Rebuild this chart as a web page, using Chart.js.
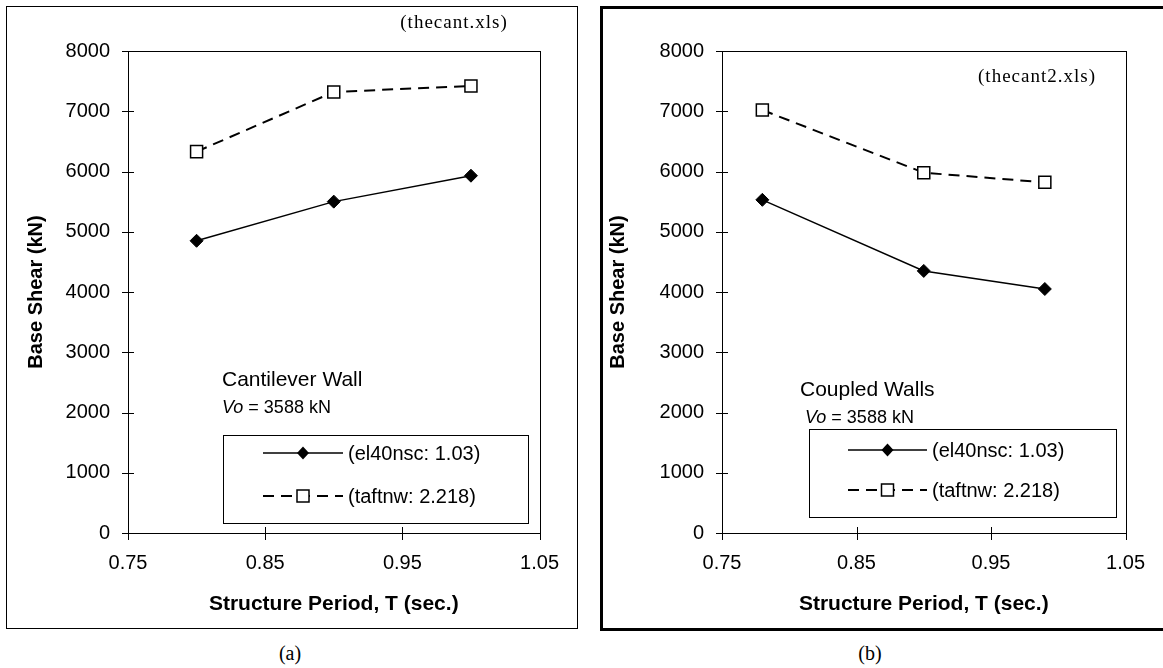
<!DOCTYPE html>
<html>
<head>
<meta charset="utf-8">
<script src="https://cdn.jsdelivr.net/npm/chart.js@4.4.0/dist/chart.umd.min.js"></script>
<style>
body { margin: 0; background: #fff; width: 1163px; height: 668px; overflow: hidden; position: relative; }
.panel { position: absolute; box-sizing: border-box; border: 1px solid #000; overflow: hidden; }
#pa { left: 6px; top: 6px; width: 572px; height: 623px; }
#pb { left: 600px; top: 6px; width: 566px; height: 625px; border-width: 3px; }
.panel canvas { display: block; }
.cap { position: absolute; top: 642px; font: 20px "Liberation Serif", "Times New Roman", serif; transform: translateX(-50%); }
</style>
</head>
<body>
<div class="panel" id="pa"><canvas id="chartA" width="570" height="621"></canvas></div>
<div class="panel" id="pb"><canvas id="chartB" width="560" height="619"></canvas></div>
<div class="cap" style="left:290px">(a)</div>
<div class="cap" style="left:870px">(b)</div>
<script>
// data
const xTickValues = [0.75, 0.85, 0.95, 1.05];
const yTickValues = [0, 1000, 2000, 3000, 4000, 5000, 6000, 7000, 8000];
const seriesNames = ['(el40nsc: 1.03)', '(taftnw: 2.218)'];

// (a) cantilever wall
const periodsA = [0.8, 0.9, 1.0];
const el40A = [4850, 5500, 5930];
const taftA = [6330, 7320, 7420];

// (b) coupled walls
const periodsB = [0.78, 0.9, 0.99];
const el40B = [5530, 4350, 4050];
const taftB = [7020, 5980, 5820];

const SANS = '"Liberation Sans", Arial, sans-serif';
const SERIF = '"Liberation Serif", "Times New Roman", serif';
Chart.defaults.color = '#000';
Chart.defaults.font.family = SANS;

function pairs(xs, ys) {
    return xs.map((x, i) => ({ x: x, y: ys[i] }));
}

function drawMarker(ctx, style, x, y) {
    ctx.save();
    ctx.setLineDash([]);
    ctx.strokeStyle = '#000';
    ctx.lineWidth = 1.5;
    if (style === 'rectRot') {
        ctx.fillStyle = '#000';
        ctx.beginPath();
        ctx.moveTo(x, y - 6.5);
        ctx.lineTo(x + 6, y);
        ctx.lineTo(x, y + 6.5);
        ctx.lineTo(x - 6, y);
        ctx.closePath();
        ctx.fill();
    } else {
        ctx.fillStyle = '#fff';
        ctx.fillRect(x - 6, y - 6, 12, 12);
        ctx.strokeRect(x - 6, y - 6, 12, 12);
    }
    ctx.restore();
}

// plot box, crossing tick marks, legend box and notes
const decorPlugin = {
    id: 'decor',
    afterDraw(chart) {
        const ctx = chart.ctx;
        const a = chart.chartArea;
        const cfg = chart.options.plugins.decor;
        ctx.save();
        ctx.strokeStyle = '#000';
        ctx.lineWidth = 1;
        ctx.strokeRect(Math.round(a.left) + 0.5, Math.round(a.top) + 0.5,
            Math.round(a.right - a.left), Math.round(a.bottom - a.top));

        const xs = chart.scales.x, ys = chart.scales.y;
        ctx.beginPath();
        xTickValues.forEach(v => {
            const px = Math.round(xs.getPixelForValue(v)) + 0.5;
            ctx.moveTo(px, a.bottom - 6);
            ctx.lineTo(px, a.bottom + 7);
        });
        yTickValues.forEach(v => {
            const py = Math.round(ys.getPixelForValue(v)) + 0.5;
            ctx.moveTo(a.left - 6, py);
            ctx.lineTo(a.left + 6, py);
        });
        ctx.stroke();

        // legend
        const lg = cfg.legend;
        ctx.fillStyle = '#fff';
        ctx.fillRect(lg.x, lg.y, lg.w, lg.h);
        ctx.strokeRect(lg.x + 0.5, lg.y + 0.5, lg.w, lg.h);
        chart.data.datasets.forEach((ds, i) => {
            const ry = lg.rows[i];
            ctx.save();
            ctx.lineWidth = ds.borderWidth;
            ctx.setLineDash(ds.borderDash || []);
            ctx.beginPath();
            ctx.moveTo(lg.lineX0, ry);
            ctx.lineTo(lg.lineX1, ry);
            ctx.stroke();
            ctx.restore();
            drawMarker(ctx, ds.pointStyle, (lg.lineX0 + lg.lineX1) / 2, ry);
            ctx.fillStyle = '#000';
            ctx.font = '20px ' + SANS;
            ctx.textBaseline = 'middle';
            ctx.textAlign = 'left';
            ctx.fillText(ds.label, lg.textX, ry + 1);
        });

        // notes
        ctx.fillStyle = '#000';
        ctx.textBaseline = 'middle';
        ctx.textAlign = 'left';
        ctx.font = '21px ' + SANS;
        ctx.fillText(cfg.name.text, cfg.name.x, cfg.name.y);
        ctx.font = 'italic 18px ' + SANS;
        ctx.fillText('Vo', cfg.vo.x, cfg.vo.y);
        const w = ctx.measureText('Vo').width;
        ctx.font = '18px ' + SANS;
        ctx.fillText(' = 3588 kN', cfg.vo.x + w, cfg.vo.y);

        ctx.font = '19px ' + SERIF;
        ctx.textAlign = 'center';
        if (ctx.letterSpacing !== undefined) ctx.letterSpacing = '1px';
        ctx.fillText(cfg.file.text, cfg.file.x, cfg.file.y);
        ctx.restore();
    }
};

function makeChart(id, periods, el40, taft, lay) {
    return new Chart(document.getElementById(id), {
        type: 'scatter',
        data: {
            datasets: [{
                label: seriesNames[0],
                data: pairs(periods, el40),
                showLine: true,
                borderColor: '#000',
                backgroundColor: '#000',
                borderWidth: 1.5,
                pointStyle: 'rectRot',
                pointRadius: 6.5,
                pointBorderWidth: 1,
                clip: false
            }, {
                label: seriesNames[1],
                data: pairs(periods, taft),
                showLine: true,
                borderColor: '#000',
                backgroundColor: '#fff',
                borderWidth: 2,
                borderDash: [11, 7],
                pointStyle: 'rect',
                pointRadius: 8.5,
                pointBorderWidth: 1.5,
                clip: false
            }]
        },
        options: {
            responsive: false,
            animation: false,
            events: [],
            layout: { padding: lay.padding },
            plugins: {
                legend: { display: false },
                tooltip: { enabled: false },
                decor: lay.decor
            },
            scales: {
                x: {
                    type: 'linear',
                    min: 0.75,
                    max: 1.05,
                    afterBuildTicks: s => { s.ticks = xTickValues.map(v => ({ value: v })); },
                    afterFit: s => { s.height = 95; },
                    grid: { display: false, drawTicks: false },
                    border: { display: true, color: '#000', width: 1 },
                    ticks: {
                        padding: 18,
                        font: { size: 20 },
                        callback: v => v.toFixed(2)
                    },
                    title: {
                        display: true,
                        text: 'Structure Period, T (sec.)',
                        font: { size: 21, weight: 'bold' },
                        padding: { top: 0, bottom: 11 }
                    }
                },
                y: {
                    min: 0,
                    max: 8000,
                    afterBuildTicks: s => { s.ticks = yTickValues.map(v => ({ value: v })); },
                    afterFit: s => { s.width = lay.yWidth; },
                    grid: { display: false, drawTicks: false },
                    border: { display: true, color: '#000', width: 1 },
                    ticks: { padding: 18, font: { size: 20 }, callback: v => String(v) },
                    title: {
                        display: true,
                        text: 'Base Shear (kN)',
                        font: { size: 20, weight: 'bold' },
                        padding: { top: lay.yTitlePad, bottom: 0 }
                    }
                }
            }
        },
        plugins: [decorPlugin]
    });
}

makeChart('chartA', periodsA, el40A, taftA, {
    padding: { left: 0, top: 44, right: 37, bottom: 0 },
    yWidth: 121,
    yTitlePad: 17,
    decor: {
        legend: { x: 216, y: 428, w: 305, h: 88, rows: [446, 489], lineX0: 256, lineX1: 336, textX: 341 },
        name: { text: 'Cantilever Wall', x: 215, y: 373 },
        vo: { x: 215, y: 401 },
        file: { text: '(thecant.xls)', x: 447, y: 16 }
    }
});

makeChart('chartB', periodsB, el40B, taftB, {
    padding: { left: 0, top: 42, right: 32, bottom: 0 },
    yWidth: 119,
    yTitlePad: 3,
    decor: {
        legend: { x: 206, y: 420, w: 307, h: 88, rows: [441, 481], lineX0: 245, lineX1: 324, textX: 329 },
        name: { text: 'Coupled Walls', x: 197, y: 381 },
        vo: { x: 202, y: 409 },
        file: { text: '(thecant2.xls)', x: 434, y: 68 }
    }
});
</script>
</body>
</html>
